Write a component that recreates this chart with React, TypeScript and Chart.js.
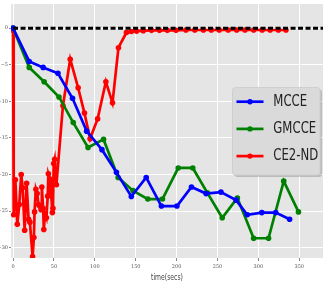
import { useEffect, useRef } from "react";
import { Chart, registerables } from "chart.js";

Chart.register(...registerables);

const xTicks = [0, 50, 100, 150, 200, 250, 300, 350];
const yTicks = [-30, -25, -20, -15, -10, -5, 0];

const refX = [0, 379];
const refY = [0, 0];

const mcceX = [0, 19.8, 36.8, 54.9, 72.7, 90, 108.7, 126.4, 144.6, 162.8, 181.4, 200.4, 218.2, 236, 254.2, 272.7, 286.4, 304.2, 321.2, 338.2];
const mcceY = [0, -4.55, -5.36, -6.17, -9.58, -14.07, -16.6, -19.7, -23.0, -20.4, -24.3, -24.3, -21.7, -22.6, -22.4, -23.5, -25.5, -25.2, -25.2, -26.1];

const gmcceX = [0, 19.8, 38, 56.2, 73.6, 91.7, 110.7, 128.5, 146.7, 164.8, 182.7, 202, 219.8, 237.6, 255.8, 274.3, 294.2, 312.4, 331, 349];
const gmcceY = [0, -5.36, -7.33, -9.4, -12.9, -16.3, -15.2, -20.4, -22.2, -23.35, -23.35, -19.1, -19.1, -22.5, -25.9, -23.2, -28.7, -28.7, -20.9, -25.1];

const ce2X = [0, 0.8, 2.8, 5.2, 7.6, 10, 11.7, 14.2, 16.6, 19, 20.6, 23.9, 25.5, 26.3, 27.9, 29.5, 31.1, 32.7, 34.3, 35.2, 36.8, 37.6, 39.2, 40.8, 42.4, 43.2, 45.2, 46.4, 48.1, 48.8, 49.7, 50.9, 53, 61, 69.9, 79.6, 87.3, 94.2, 103.4, 113.5, 121.6, 128.9, 138.6, 144.6, 151.1, 159.2, 169.3, 179, 188.7, 199.2, 211.3, 222.2, 232.7, 242.4, 252.1, 263, 273.5, 283.6, 294.2, 304.6, 314.3, 324.5, 333.7];
const ce2Y = [-0.3, -25.5, -20.7, -26.8, -24.1, -20.0, -21.8, -27.6, -21.2, -26.1, -26.5, -31.2, -28.6, -25.1, -22.0, -22.6, -24.1, -24.3, -24.8, -21.7, -24.6, -27.5, -25.4, -25.9, -22.95, -19.9, -20.6, -22.3, -25.2, -24.6, -18.5, -17.9, -21.4, -10.6, -4.24, -8.14, -11.6, -15.1, -12.4, -7.33, -10.2, -2.67, -0.6, -0.45, -0.4, -0.35, -0.3, -0.3, -0.3, -0.3, -0.25, -0.25, -0.25, -0.25, -0.25, -0.25, -0.25, -0.25, -0.25, -0.25, -0.25, -0.25, -0.25];

const seriesNames = ["MCCE", "GMCCE", "CE2-ND"];
const seriesColors = ["#0000FF", "#008000", "#FF0000"];
const xTitle = "time(secs)";

export default function App() {
  const ref = useRef<HTMLCanvasElement>(null);

  useEffect(() => {
    const zip = (xs: number[], ys: number[]) => xs.map((x, i) => ({ x, y: ys[i] }));

    const bg = {
      id: "bg",
      beforeDraw(c: any) {
        const { ctx, chartArea: a } = c;
        ctx.save();
        ctx.fillStyle = "#E5E5E5";
        ctx.fillRect(a.left, a.top, a.right - a.left, a.bottom - a.top);
        ctx.restore();
      },
    };

    const titlePlugin = {
      id: "xTitle",
      afterDraw(c: any) {
        const { ctx, chartArea: a } = c;
        ctx.save();
        ctx.translate((a.left + a.right) / 2, 278);
        ctx.scale(0.64, 1);
        ctx.font = "9.5px 'DejaVu Sans'";
        ctx.fillStyle = "#444444";
        ctx.textAlign = "center";
        ctx.textBaseline = "middle";
        ctx.fillText(xTitle, 0, 0);
        ctx.restore();
      },
    };

    const legendPlugin = {
      id: "customLegend",
      afterDraw(c: any) {
        const { ctx } = c;
        const bx = 232.5, by = 87.5, bw = 87.5, bh = 87.5, r = 3;
        const rr = (x: number, y: number, w: number, h: number) => {
          ctx.beginPath();
          ctx.moveTo(x + r, y);
          ctx.lineTo(x + w - r, y);
          ctx.quadraticCurveTo(x + w, y, x + w, y + r);
          ctx.lineTo(x + w, y + h - r);
          ctx.quadraticCurveTo(x + w, y + h, x + w - r, y + h);
          ctx.lineTo(x + r, y + h);
          ctx.quadraticCurveTo(x, y + h, x, y + h - r);
          ctx.lineTo(x, y + r);
          ctx.quadraticCurveTo(x, y, x + r, y);
          ctx.closePath();
        };
        ctx.save();
        rr(bx + 2, by + 2, bw, bh);
        ctx.fillStyle = "rgba(0,0,0,0.18)";
        ctx.fill();
        rr(bx, by, bw, bh);
        ctx.fillStyle = "#DADADA";
        ctx.fill();
        ctx.strokeStyle = "#CFCFCF";
        ctx.lineWidth = 1;
        ctx.stroke();
        seriesNames.forEach((name, i) => {
          const y = 101.7 + i * 27.2;
          ctx.strokeStyle = seriesColors[i];
          ctx.lineWidth = 2.7;
          ctx.beginPath();
          ctx.moveTo(236.5, y);
          ctx.lineTo(263.5, y);
          ctx.stroke();
          ctx.fillStyle = seriesColors[i];
          ctx.beginPath();
          ctx.arc(250, y, 2.7, 0, Math.PI * 2);
          ctx.fill();
          ctx.save();
          ctx.translate(273.3, y);
          ctx.scale(0.78, 1);
          ctx.font = "15px 'DejaVu Sans'";
          ctx.fillStyle = "#222222";
          ctx.textAlign = "left";
          ctx.textBaseline = "middle";
          ctx.fillText(name, 0, 0);
          ctx.restore();
        });
        ctx.restore();
      },
    };

    const lineDs = (label: string, xs: number[], ys: number[], color: string) => ({
      label,
      data: zip(xs, ys),
      borderColor: color,
      backgroundColor: color,
      borderWidth: 2.7,
      pointRadius: 2.8,
      pointBorderWidth: 0,
      pointBackgroundColor: color,
      tension: 0,
      fill: false,
    });

    const chart = new Chart(ref.current as HTMLCanvasElement, {
      type: "line",
      data: {
        datasets: [
          {
            label: "ref",
            data: zip(refX, refY),
            borderColor: "#000000",
            borderWidth: 3,
            borderDash: [5, 2.5],
            pointRadius: 0,
            fill: false,
          } as any,
          lineDs(seriesNames[0], mcceX, mcceY, seriesColors[0]),
          lineDs(seriesNames[1], gmcceX, gmcceY, seriesColors[1]),
          lineDs(seriesNames[2], ce2X, ce2Y, seriesColors[2]),
        ],
      },
      options: {
        responsive: false,
        animation: false,
        layout: { padding: { top: 0, right: 1, bottom: 0, left: 0 } },
        plugins: { legend: { display: false }, tooltip: { enabled: false } },
        scales: {
          x: {
            type: "linear",
            min: -2.5,
            max: 379,
            afterBuildTicks: (s: any) => {
              s.ticks = xTicks.map((v) => ({ value: v }));
            },
            afterFit: (s: any) => {
              s.height = 26;
            },
            grid: { color: "#FFFFFF", lineWidth: 1, tickColor: "#888888", tickLength: 3 },
            border: { display: false },
            ticks: { font: { size: 5, family: "'DejaVu Serif'" }, color: "#555555", padding: 3, maxRotation: 0, autoSkip: false },
          },
          y: {
            type: "linear",
            min: -31.4,
            max: 3.3,
            afterBuildTicks: (s: any) => {
              s.ticks = yTicks.map((v) => ({ value: v }));
            },
            afterFit: (s: any) => {
              s.width = 11;
            },
            grid: { color: "#FFFFFF", lineWidth: 1, tickColor: "#888888", tickLength: 2 },
            border: { display: false },
            ticks: {
              font: { size: 5, family: "'DejaVu Serif'" },
              color: "#555555",
              padding: 1,
              autoSkip: false,
              callback: (v: any) => (v < 0 ? "\u2212" + Math.abs(v) : String(v)),
            },
          },
        },
      } as any,
      plugins: [bg, titlePlugin, legendPlugin],
    });
    return () => chart.destroy();
  }, []);

  return (
    <div style={{ position: "fixed", left: 0, top: 0, width: 327, height: 284, background: "#FFFFFF" }}>
      <canvas ref={ref} width={327} height={284} style={{ display: "block", width: 327, height: 284 }} />
    </div>
  );
}
